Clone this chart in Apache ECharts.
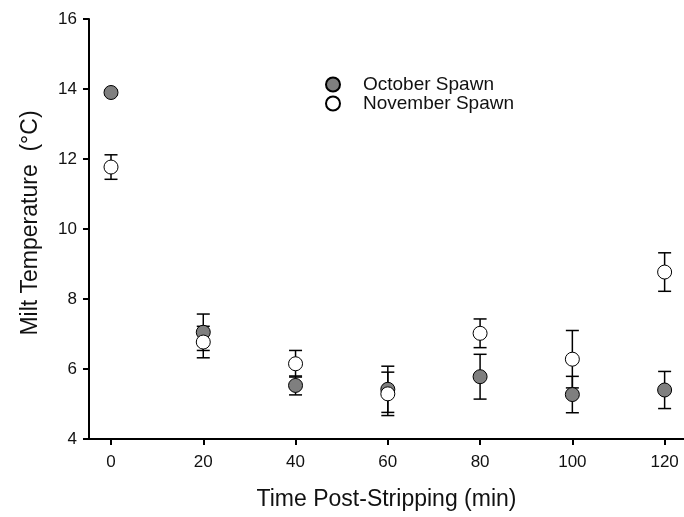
<!DOCTYPE html>
<html>
<head>
<meta charset="utf-8">
<script src="https://cdn.jsdelivr.net/npm/echarts@6/dist/echarts.min.js"></script>
<style>
  html, body { margin: 0; padding: 0; background: #fff; }
  #chart { width: 684px; height: 517px; }
</style>
</head>
<body>
<div id="chart"></div>
<script>
// time after stripping (min)
var times = [0, 20, 40, 60, 80, 100, 120];
var xTicks = [0, 20, 40, 60, 80, 100, 120];

// milt temperature, mean and error
var octMean = [13.9, 7.05, 5.53, 5.42, 5.78, 5.27, 5.4];
var octErr  = [0.08, 0.52, 0.27, 0.66, 0.64, 0.52, 0.53];
var novMean = [11.77, 6.77, 6.15, 5.29, 7.02, 6.28, 8.77];
var novErr  = [0.35, 0.45, 0.38, 0.62, 0.41, 0.82, 0.55];

var FONT = 'Liberation Sans';

function pts(means){
    return times.map(function(t, i){ return [t, means[i]]; });
}
function bars(means, errs){
    return times.map(function(t, i){ return [t, means[i] - errs[i], means[i] + errs[i]]; });
}

function renderErr(params, api){
    var lo = api.coord([api.value(0), api.value(1)]);
    var hi = api.coord([api.value(0), api.value(2)]);
    var w = 6.5;
    var style = {stroke: '#000', lineWidth: 1.5};
    return {
        type: 'group',
        children: [
            {type: 'line', shape: {x1: lo[0], y1: lo[1], x2: hi[0], y2: hi[1]}, style: style},
            {type: 'line', shape: {x1: lo[0] - w, y1: lo[1], x2: lo[0] + w, y2: lo[1]}, style: style},
            {type: 'line', shape: {x1: hi[0] - w, y1: hi[1], x2: hi[0] + w, y2: hi[1]}, style: style}
        ]
    };
}

var chart = echarts.init(document.getElementById('chart'));

var option = {
    animation: false,
    backgroundColor: '#fff',
    textStyle: {fontFamily: FONT},
    grid: {left: 89, top: 19, right: 0, bottom: 78},
    legend: {
        orient: 'vertical',
        left: 320,
        top: 70,
        itemWidth: 14,
        itemHeight: 14,
        itemGap: 0,
        data: ['October Spawn', 'November Spawn'],
        textStyle: {fontFamily: FONT, fontSize: 19, color: '#111', padding: [0, 0, 0, 18]}
    },
    xAxis: {
        type: 'value',
        min: -4.77,
        max: 124.2,
        name: 'Time Post-Stripping (min)',
        nameLocation: 'middle',
        nameGap: 49,
        nameTextStyle: {fontFamily: FONT, fontSize: 23, color: '#111'},
        splitLine: {show: false},
        axisLine: {show: true, onZero: false, lineStyle: {color: '#000', width: 2}},
        axisTick: {show: true, length: 6, customValues: xTicks, lineStyle: {color: '#000', width: 2}},
        axisLabel: {customValues: xTicks, margin: 15, fontFamily: FONT, fontSize: 17, color: '#111'}
    },
    yAxis: {
        type: 'value',
        min: 4,
        max: 16,
        interval: 2,
        name: 'Milt Temperature  (°C)',
        nameLocation: 'middle',
        nameGap: 47,
        nameTextStyle: {fontFamily: FONT, fontSize: 23, color: '#111', padding: [0, 0, 0, 12]},
        splitLine: {show: false},
        axisLine: {show: true, onZero: false, lineStyle: {color: '#000', width: 2}},
        axisTick: {show: true, length: 6, lineStyle: {color: '#000', width: 2}},
        axisLabel: {margin: 12, fontFamily: FONT, fontSize: 17, color: '#111'}
    },
    series: [
        {
            name: 'October Spawn err',
            type: 'custom',
            renderItem: renderErr,
            data: bars(octMean, octErr),
            encode: {x: 0, y: [1, 2]},
            silent: true
        },
        {
            name: 'October Spawn',
            type: 'scatter',
            symbol: 'circle',
            symbolSize: 14,
            itemStyle: {color: '#7f7f7f', borderColor: '#000', borderWidth: 1, opacity: 1},
            data: pts(octMean)
        },
        {
            name: 'November Spawn err',
            type: 'custom',
            renderItem: renderErr,
            data: bars(novMean, novErr),
            encode: {x: 0, y: [1, 2]},
            silent: true
        },
        {
            name: 'November Spawn',
            type: 'scatter',
            symbol: 'circle',
            symbolSize: 14,
            itemStyle: {color: '#fff', borderColor: '#000', borderWidth: 1, opacity: 1},
            data: pts(novMean)
        }
    ]
};

chart.setOption(option);
</script>
</body>
</html>
